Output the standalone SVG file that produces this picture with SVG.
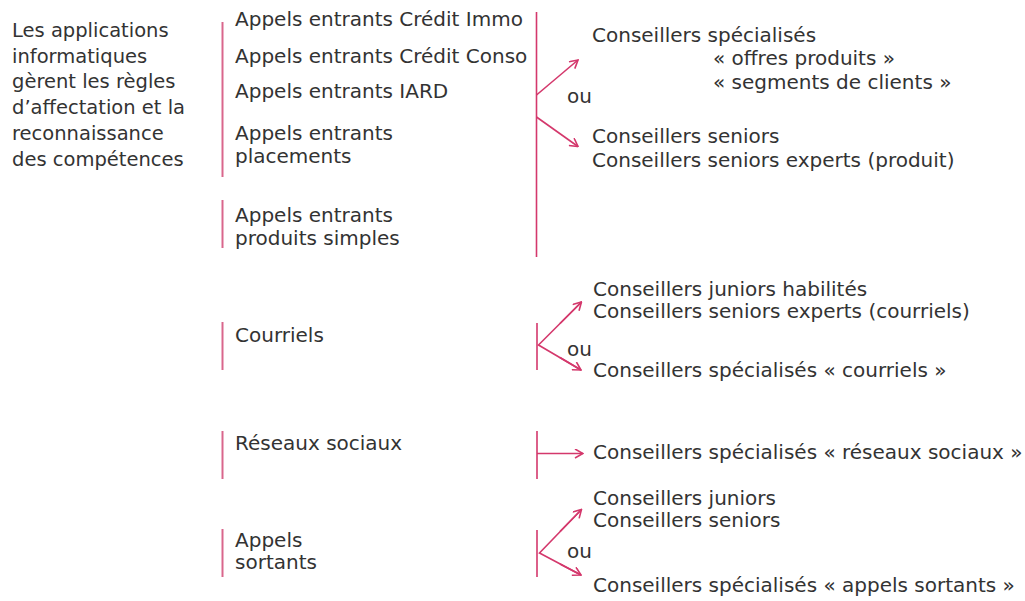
<svg xmlns="http://www.w3.org/2000/svg" width="1025" height="601" viewBox="0 0 1025 601">
  <style>
    text { font-family: "DejaVu Sans", Verdana, sans-serif; font-size: 20px; fill: #333333; }
    #description text { font-size: 19.5px; }
    .bar { stroke: #d9668c; stroke-width: 2; fill: none; }
    .link { stroke: #d4386c; stroke-width: 1.6; fill: none; }
    .arrow { stroke: #d4386c; stroke-width: 1.6; fill: none; marker-end: url(#head); }
  </style>
  <defs>
    <marker id="head" viewBox="0 0 10 10" refX="9" refY="5" markerWidth="10" markerHeight="10" markerUnits="userSpaceOnUse" orient="auto">
      <path d="M1,0.5 L9,5 L1,9.5" fill="none" stroke="#d4386c" stroke-width="1.6"/>
    </marker>
  </defs>
  <rect width="1025" height="601" fill="#ffffff"/>

  <!-- description on the left -->
  <g id="description">
    <text x="12" y="37">Les applications</text>
    <text x="12" y="62.5">informatiques</text>
    <text x="12" y="88">gèrent les règles</text>
    <text x="12" y="114">d’affectation et la</text>
    <text x="12" y="140">reconnaissance</text>
    <text x="12" y="165.5">des compétences</text>
  </g>

  <!-- incoming channels -->
  <g id="appels-entrants">
    <line class="bar" x1="222.5" y1="22" x2="222.5" y2="177"/>
    <text x="235" y="26">Appels entrants Crédit Immo</text>
    <text x="235" y="62.5">Appels entrants Crédit Conso</text>
    <text x="235" y="98">Appels entrants IARD</text>
    <text x="235" y="140">Appels entrants</text>
    <text x="235" y="163">placements</text>
  </g>
  <g id="produits-simples">
    <line class="bar" x1="222.5" y1="200" x2="222.5" y2="248"/>
    <text x="235" y="222">Appels entrants</text>
    <text x="235" y="245">produits simples</text>
  </g>
  <g id="courriels">
    <line class="bar" x1="222.5" y1="322" x2="222.5" y2="370"/>
    <text x="235" y="341.5">Courriels</text>
  </g>
  <g id="reseaux-sociaux">
    <line class="bar" x1="222.5" y1="431" x2="222.5" y2="479"/>
    <text x="235" y="450">Réseaux sociaux</text>
  </g>
  <g id="appels-sortants">
    <line class="bar" x1="222.5" y1="529" x2="222.5" y2="577"/>
    <text x="235" y="546.5">Appels</text>
    <text x="235" y="569">sortants</text>
  </g>

  <!-- connectors -->
  <g id="connectors">
    <line class="link" x1="536.5" y1="12" x2="536.5" y2="257"/>
    <line class="arrow" x1="536.5" y1="95" x2="578" y2="60"/>
    <line class="arrow" x1="536.5" y1="117" x2="578" y2="146.5"/>

    <line class="link" x1="537" y1="323" x2="537" y2="370"/>
    <polyline class="link" points="581.5,302 538.5,345 581,370"/>
    <line class="arrow" x1="560" y1="323.5" x2="581.5" y2="302"/>
    <line class="arrow" x1="560" y1="357.5" x2="581" y2="370"/>

    <line class="link" x1="537" y1="431" x2="537" y2="479"/>
    <line class="arrow" x1="537" y1="453.5" x2="583" y2="453.5"/>

    <line class="link" x1="537" y1="530" x2="537" y2="577"/>
    <polyline class="link" points="581.5,509.5 539.5,553 581,575"/>
    <line class="arrow" x1="560" y1="531.5" x2="581.5" y2="509.5"/>
    <line class="arrow" x1="560" y1="564" x2="581" y2="575"/>

    <text x="567" y="103">ou</text>
    <text x="567" y="356">ou</text>
    <text x="567" y="558">ou</text>
  </g>

  <!-- advisor profiles -->
  <g id="specialises-offres">
    <text x="592" y="42">Conseillers spécialisés</text>
    <text x="713" y="65">« offres produits »</text>
    <text x="713" y="89">« segments de clients »</text>
  </g>
  <g id="seniors-produit">
    <text x="592" y="143">Conseillers seniors</text>
    <text x="592" y="166.5">Conseillers seniors experts (produit)</text>
  </g>
  <g id="juniors-habilites">
    <text x="593" y="296">Conseillers juniors habilités</text>
    <text x="593" y="318">Conseillers seniors experts (courriels)</text>
  </g>
  <g id="specialises-courriels">
    <text x="593" y="377">Conseillers spécialisés « courriels »</text>
  </g>
  <g id="specialises-reseaux">
    <text x="593" y="458.5">Conseillers spécialisés « réseaux sociaux »</text>
  </g>
  <g id="juniors-seniors">
    <text x="593" y="505">Conseillers juniors</text>
    <text x="593" y="527">Conseillers seniors</text>
  </g>
  <g id="specialises-sortants">
    <text x="593" y="592">Conseillers spécialisés « appels sortants »</text>
  </g>
</svg>
